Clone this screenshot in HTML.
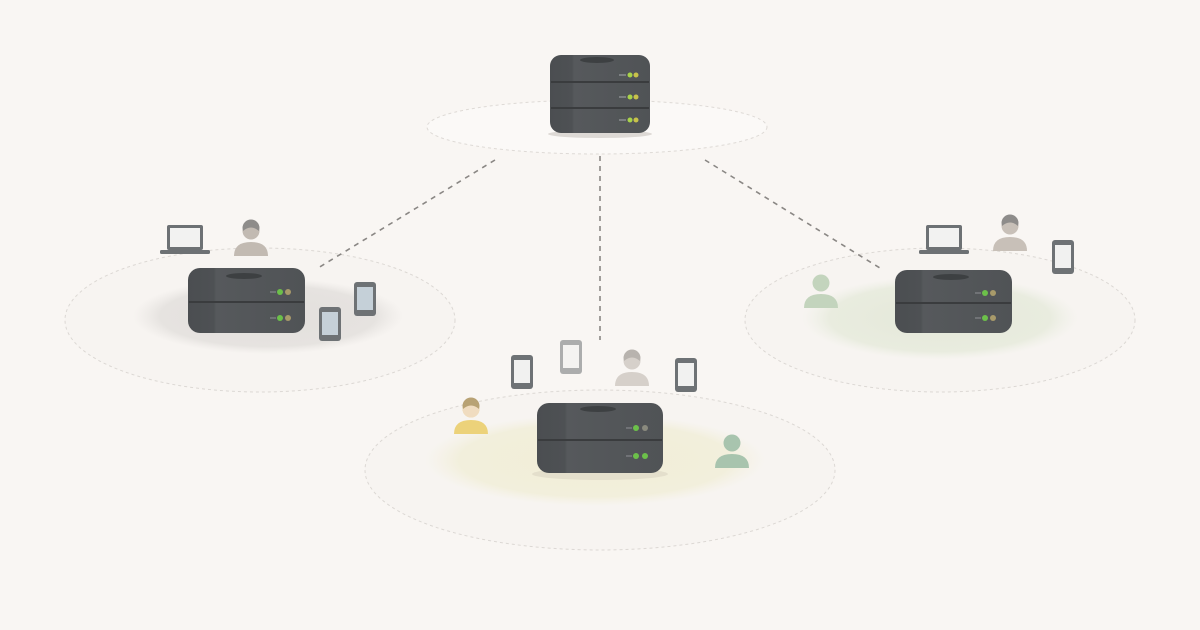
<!DOCTYPE html>
<html><head><meta charset="utf-8"><style>
html,body{margin:0;padding:0;background:#f9f6f3;}
svg{display:block;}
</style></head><body>
<svg width="1200" height="630" viewBox="0 0 1200 630" xmlns="http://www.w3.org/2000/svg">
<defs>
<linearGradient id="srv" x1="0" x2="1" y1="0" y2="0">
<stop offset="0" stop-color="#4b4e51"/><stop offset="0.22" stop-color="#4e5154"/><stop offset="0.24" stop-color="#56595c"/><stop offset="1" stop-color="#505356"/>
</linearGradient>
<radialGradient id="gblob"><stop offset="0" stop-color="#e2dfdc"/><stop offset="0.8" stop-color="#e6e3e0"/><stop offset="1" stop-color="#ebe8e5" stop-opacity="0"/></radialGradient>
<radialGradient id="grblob"><stop offset="0" stop-color="#e4e8d9"/><stop offset="0.8" stop-color="#e9ecdf"/><stop offset="1" stop-color="#eef0e6" stop-opacity="0"/></radialGradient>
<radialGradient id="yblob"><stop offset="0" stop-color="#f1eed6"/><stop offset="0.8" stop-color="#f2efdc"/><stop offset="1" stop-color="#f4f1e2" stop-opacity="0"/></radialGradient>
<g id="person"><circle cx="0" cy="-11" r="8.5"/><path d="M-17 14 Q-17 0 0 0 Q17 0 17 14 Z"/></g>
<g id="phone"><rect x="-11" y="-17" width="22" height="34" rx="3" fill="#6e7275"/><rect x="-8" y="-12" width="16" height="23" fill="#f1f1f0"/></g>
<g id="laptop"><rect x="-18" y="-14" width="36" height="25" rx="2" fill="#6d7174"/><rect x="-15" y="-11" width="30" height="19" fill="#f2f2f1"/><rect x="-25" y="11" width="50" height="4" rx="1.5" fill="#6d7174"/></g>
</defs>

<ellipse cx="597" cy="127" rx="170" ry="27" fill="#fbf9f7" stroke="#dedad6" stroke-dasharray="3 3"/>
<ellipse cx="260" cy="320" rx="195" ry="72" fill="#f7f4f1" stroke="#dcd8d4" stroke-dasharray="3 3"/>
<ellipse cx="268" cy="316" rx="135" ry="38" fill="url(#gblob)"/>
<ellipse cx="940" cy="320" rx="195" ry="72" fill="#f7f4f1" stroke="#dcd8d4" stroke-dasharray="3 3"/>
<ellipse cx="940" cy="318" rx="138" ry="42" fill="url(#grblob)"/>
<ellipse cx="600" cy="470" rx="235" ry="80" fill="#f7f4f1" stroke="#dcd8d4" stroke-dasharray="3 3"/>
<ellipse cx="595" cy="460" rx="170" ry="46" fill="url(#yblob)"/>

<g stroke="#8a8784" stroke-width="1.6" stroke-dasharray="5 5" fill="none">
<line x1="495" y1="160" x2="318" y2="268"/>
<line x1="600" y1="156" x2="600" y2="340"/>
<line x1="705" y1="160" x2="880" y2="268"/>
</g>

<g>
<ellipse cx="600" cy="134" rx="52" ry="4" fill="#ddd9d5"/>
<rect x="550" y="55" width="100" height="78" rx="11" fill="url(#srv)"/>
<ellipse cx="597" cy="60" rx="17" ry="3" fill="#3d4042"/>
<line x1="551" y1="82" x2="649" y2="82" stroke="#3a3c3e" stroke-width="2"/>
<line x1="551" y1="108" x2="649" y2="108" stroke="#3a3c3e" stroke-width="2"/>
<g fill="#a9d34a"><circle cx="630" cy="75" r="2.5"/><circle cx="630" cy="97" r="2.5"/><circle cx="630" cy="120" r="2.5"/></g>
<g fill="#c8c24a"><circle cx="636" cy="75" r="2.5"/><circle cx="636" cy="97" r="2.5"/><circle cx="636" cy="120" r="2.5"/></g>
<g stroke="#8a8d90" stroke-width="1.5"><line x1="619" y1="75" x2="626" y2="75"/><line x1="619" y1="97" x2="626" y2="97"/><line x1="619" y1="120" x2="626" y2="120"/></g>
</g>

<g>
<rect x="188" y="268" width="117" height="65" rx="12" fill="url(#srv)"/>
<ellipse cx="244" cy="276" rx="18" ry="3" fill="#3d4042"/>
<line x1="189" y1="302" x2="304" y2="302" stroke="#3a3c3e" stroke-width="2"/>
<circle cx="280" cy="292" r="3" fill="#6cc04a"/><circle cx="288" cy="292" r="3" fill="#a89a6a"/>
<circle cx="280" cy="318" r="3" fill="#6cc04a"/><circle cx="288" cy="318" r="3" fill="#a89a6a"/>
<g stroke="#7a7d80" stroke-width="1.5"><line x1="270" y1="292" x2="276" y2="292"/><line x1="270" y1="318" x2="276" y2="318"/></g>
</g>

<g>
<rect x="895" y="270" width="117" height="63" rx="12" fill="url(#srv)"/>
<ellipse cx="951" cy="277" rx="18" ry="3" fill="#3d4042"/>
<line x1="896" y1="303" x2="1011" y2="303" stroke="#3a3c3e" stroke-width="2"/>
<circle cx="985" cy="293" r="3" fill="#6cc04a"/><circle cx="993" cy="293" r="3" fill="#a89a6a"/>
<circle cx="985" cy="318" r="3" fill="#6cc04a"/><circle cx="993" cy="318" r="3" fill="#a89a6a"/>
<g stroke="#7a7d80" stroke-width="1.5"><line x1="975" y1="293" x2="981" y2="293"/><line x1="975" y1="318" x2="981" y2="318"/></g>
</g>

<g>
<ellipse cx="600" cy="474" rx="68" ry="6" fill="#e4dfcc"/>
<rect x="537" y="403" width="126" height="70" rx="12" fill="url(#srv)"/>
<ellipse cx="598" cy="409" rx="18" ry="3" fill="#3d4042"/>
<line x1="538" y1="440" x2="662" y2="440" stroke="#3a3c3e" stroke-width="2"/>
<circle cx="636" cy="428" r="3" fill="#6cc04a"/><circle cx="645" cy="428" r="3" fill="#8a8a7e"/>
<circle cx="636" cy="456" r="3" fill="#6cc04a"/><circle cx="645" cy="456" r="3" fill="#6cc04a"/>
<g stroke="#7a7d80" stroke-width="1.5"><line x1="626" y1="428" x2="632" y2="428"/><line x1="626" y1="456" x2="632" y2="456"/></g>
</g>

<use href="#laptop" x="185" y="239"/>
<g fill="#c2bab2"><use href="#person" x="251" y="242"/></g>
<path d="M242.5 228 A8.5 8.5 0 0 1 259.5 228 L259 231 Q251 224 243 231 Z" fill="#8e8c8a"/>
<use href="#phone" x="365" y="299"/>
<use href="#phone" x="330" y="324"/>
<rect x="357" y="287" width="16" height="23" fill="#c5d0d8"/>
<rect x="322" y="312" width="16" height="23" fill="#c5d0d8"/>

<use href="#laptop" x="944" y="239"/>
<g fill="#c8c0b8"><use href="#person" x="1010" y="237"/></g>
<path d="M1001.5 223 A8.5 8.5 0 0 1 1018.5 223 L1018 226 Q1010 219 1002 226 Z" fill="#8e8c8a"/>
<use href="#phone" x="1063" y="257"/>
<g fill="#c3d4bd"><use href="#person" x="821" y="294"/></g>

<use href="#phone" x="522" y="372"/>
<g opacity="0.55"><use href="#phone" x="571" y="357"/></g>
<g fill="#d6d0ca"><use href="#person" x="632" y="372"/></g>
<path d="M623.5 358 A8.5 8.5 0 0 1 640.5 358 L640 361 Q632 354 624 361 Z" fill="#b8b3ae"/>
<use href="#phone" x="686" y="375"/>
<g fill="#ecd27a"><use href="#person" x="471" y="420"/></g>
<g fill="#f0dcc0"><circle cx="471" cy="409" r="8.5"/></g>
<path d="M462.5 406 A8.5 8.5 0 0 1 479.5 406 L479 409 Q471 402 463 409 Z" fill="#b8a274"/>
<g fill="#a8c4ae"><use href="#person" x="732" y="454"/></g>
</svg>
</body></html>
